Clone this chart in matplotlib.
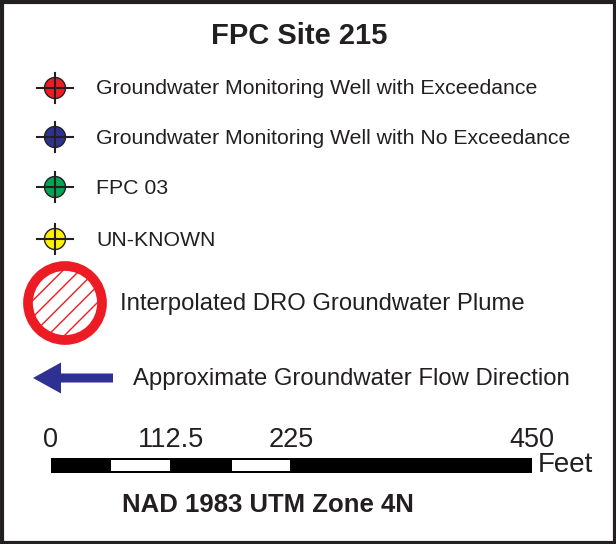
import matplotlib
matplotlib.use("Agg")
import matplotlib.pyplot as plt
from matplotlib.patches import Circle, Rectangle, FancyArrow

plt.rcParams['font.family'] = ['Liberation Sans', 'DejaVu Sans']

# legend content
title = "FPC Site 215"
well_labels = ["Groundwater Monitoring Well with Exceedance",
               "Groundwater Monitoring Well with No Exceedance",
               "FPC 03",
               "UN-KNOWN"]
well_colors = ["#ED1C24", "#2E3192", "#00A651", "#FFF200"]
plume_label = "Interpolated DRO Groundwater Plume"
flow_label = "Approximate Groundwater Flow Direction"
# scale bar (feet)
scale_ticks = [0, 112.5, 225, 450]
scale_tick_labels = ["0", "112.5", "225", "450"]
scale_segments = [(0, 56.25, "black"), (56.25, 112.5, "white"),
                  (112.5, 168.75, "black"), (168.75, 225, "white"),
                  (225, 450, "black")]
scale_units = "Feet"
projection = "NAD 1983 UTM Zone 4N"

ink = "#231F20"

W, H = 616, 544
fig = plt.figure(figsize=(W / 100, H / 100), dpi=100)
ax = fig.add_axes([0, 0, 1, 1])
ax.set_xlim(0, W)
ax.set_ylim(H, 0)
ax.axis('off')

# frame
ax.add_patch(Rectangle((1.5, 1.5), W - 3, H - 3, fill=False, lw=3, ec=ink))

ax.text(299, 36, title, ha='center', va='center', fontsize=21,
        fontweight='bold', color=ink)

# well symbols
ys = [88, 137, 187, 239]
for y, lab, col in zip(ys, well_labels, well_colors):
    ax.add_patch(Circle((55, y), 10.5, fc=col, ec=ink, lw=1))
    ax.plot([37, 73], [y, y], color=ink, lw=1.5)
    ax.plot([55, 55], [y - 15, y + 15], color=ink, lw=1.5)
    ax.text(96, y + 1, lab, ha='left', va='center', fontsize=15.3, color=ink)

# plume symbol
plt.rcParams['hatch.linewidth'] = 1.0
ax.add_patch(Circle((65, 303), 37, fc='white', ec='#ED1C24', lw=0, hatch='//'))
ax.add_patch(Circle((65, 303), 37, fill=False, ec='#ED1C24', lw=7))
ax.text(120, 304, plume_label, ha='left', va='center', fontsize=17.2, color=ink)

# flow arrow
ax.add_patch(FancyArrow(113, 378, -80, 0, width=9, head_width=31, head_length=28,
                        length_includes_head=True, color='#2E3192', lw=0))
ax.text(133, 379, flow_label, ha='left', va='center', fontsize=17.2, color=ink)

# scale bar in its own axes using feet
sb = fig.add_axes([50.5 / W, 1 - 473 / H, 481.5 / W, 15 / H])
sb.set_xlim(0, 450)
sb.set_ylim(0, 1)
sb.axis('off')
for x0, x1, c in scale_segments:
    sb.barh(0.5, x1 - x0, left=x0, height=1, color='black', lw=0)
    if c == 'white':
        sb.barh(0.5, x1 - x0 - 1.5, left=x0 + 0.75, height=0.74, color='white', lw=0)
for v, lab in zip(scale_ticks, scale_tick_labels):
    sb.text(v, 2.2, lab, ha='center', va='center', fontsize=19.5, color=ink,
            transform=sb.transData, clip_on=False)
sb.text(1.012, 0.5, scale_units, transform=sb.transAxes, ha='left', va='center',
        fontsize=20, color=ink)

ax.text(268, 505, projection, ha='center', va='center', fontsize=18.5,
        fontweight='bold', color=ink)

fig.savefig("out.png", dpi=100)
